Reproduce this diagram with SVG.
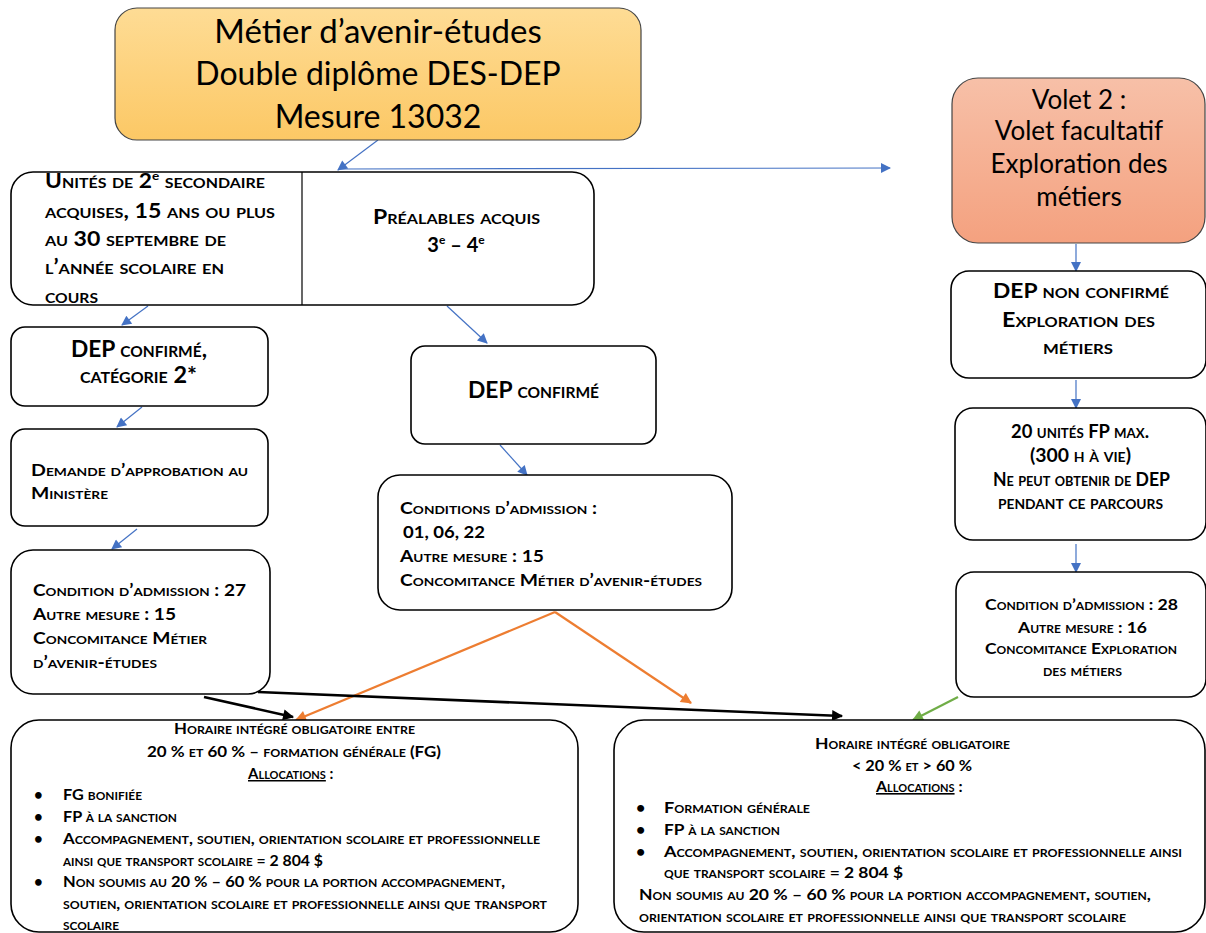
<svg xmlns="http://www.w3.org/2000/svg" width="1206" height="933" viewBox="0 0 1206 933">
<defs>
<linearGradient id="gOr" x1="0" y1="0" x2="0" y2="1"><stop offset="0" stop-color="#fedc95"/><stop offset="1" stop-color="#fcc865"/></linearGradient>
<linearGradient id="gRed" x1="0" y1="0" x2="0" y2="1"><stop offset="0" stop-color="#f7c0a8"/><stop offset="1" stop-color="#f4a17f"/></linearGradient>
<marker id="aB" viewBox="0 0 10 10" refX="9" refY="5" markerWidth="13" markerHeight="10" markerUnits="userSpaceOnUse" orient="auto"><path d="M0,0 L10,5 L0,10 z" fill="#4472c4"/></marker>
<marker id="aO" viewBox="0 0 10 10" refX="9" refY="5" markerWidth="14" markerHeight="11" markerUnits="userSpaceOnUse" orient="auto"><path d="M0,0 L10,5 L0,10 z" fill="#ed7d31"/></marker>
<marker id="aK" viewBox="0 0 10 10" refX="9" refY="5" markerWidth="14" markerHeight="11" markerUnits="userSpaceOnUse" orient="auto"><path d="M0,0 L10,5 L0,10 z" fill="#000"/></marker>
<marker id="aG" viewBox="0 0 10 10" refX="9" refY="5" markerWidth="14" markerHeight="11" markerUnits="userSpaceOnUse" orient="auto"><path d="M0,0 L10,5 L0,10 z" fill="#70ad47"/></marker>
</defs>
<style>
.box{fill:#fff;stroke:#000;stroke-width:1.6}
.t{font-family:Lato,"Open Sans",sans-serif;fill:#000}
.sc{font-family:Lato,"Open Sans",sans-serif;font-variant:small-caps;font-weight:bold;fill:#000}
.c{text-anchor:middle}
.sup{font-variant:normal}
.blue{stroke:#4472c4;stroke-width:1.2;fill:none;marker-end:url(#aB)}
.or{stroke:#ed7d31;stroke-width:2.2;fill:none;marker-end:url(#aO)}
.blk{stroke:#000;stroke-width:2.6;fill:none;marker-end:url(#aK)}
.gr{stroke:#70ad47;stroke-width:2.2;fill:none;marker-end:url(#aG)}
</style>
<rect width="1206" height="933" fill="#fff"/>

<g id="connectors">
<line class="blue" x1="378" y1="140" x2="338" y2="170"/>
<line class="blue" x1="340" y1="169" x2="890" y2="168"/>
<line class="blue" x1="148" y1="306" x2="122" y2="325"/>
<line class="blue" x1="447" y1="306" x2="487" y2="343"/>
<line class="blue" x1="142" y1="407" x2="117" y2="427"/>
<line class="blue" x1="137" y1="529" x2="112" y2="549"/>
<line class="blue" x1="500" y1="445" x2="527" y2="475"/>
<line class="blue" x1="1076" y1="244" x2="1076" y2="271"/>
<line class="blue" x1="1076" y1="380" x2="1076" y2="408"/>
<line class="blue" x1="1076" y1="544" x2="1076" y2="572"/>
<line class="or" x1="555" y1="612" x2="296" y2="720"/>
<line class="or" x1="555" y1="612" x2="691" y2="703"/>
<line class="blk" x1="204" y1="697" x2="293" y2="717"/>
<line class="blk" x1="258" y1="692" x2="842" y2="716"/>
<line class="gr" x1="958" y1="697" x2="913" y2="720"/>
</g>

<g id="n-title">
<rect x="115" y="8" width="526" height="132" rx="22" fill="url(#gOr)" stroke="#444" stroke-width="1.2"/>
<text class="t c" x="378" font-size="32"><tspan x="378" y="43" font-size="33">Métier d’avenir-études</tspan><tspan x="378" y="85">Double diplôme DES-DEP</tspan><tspan x="378" y="128">Mesure 13032</tspan></text>
</g>

<g id="n-volet2">
<rect x="952" y="78" width="253" height="165" rx="26" fill="url(#gRed)" stroke="#444" stroke-width="1.2"/>
<text class="t c" x="1079" font-size="26"><tspan x="1079" y="109">Volet 2 :</tspan><tspan x="1079" y="140">Volet facultatif</tspan><tspan x="1079" y="173">Exploration des</tspan><tspan x="1079" y="206">métiers</tspan></text>
</g>

<g id="n-unites">
<rect class="box" x="11" y="172" width="583" height="133" rx="22"/>
<line x1="302" y1="172" x2="302" y2="305" stroke="#000" stroke-width="1.2"/>
<g font-size="20" class="sc">
<text x="45" y="188" textLength="220" lengthAdjust="spacingAndGlyphs">Unités de 2<tspan class="sup" font-size="12" dy="-8">e</tspan><tspan dy="8"> secondaire</tspan></text>
<text x="45" y="218" textLength="230" lengthAdjust="spacingAndGlyphs">acquises, 15 ans ou plus</text>
<text x="45" y="246" textLength="181" lengthAdjust="spacingAndGlyphs">au 30 septembre de</text>
<text x="45" y="274" textLength="179" lengthAdjust="spacingAndGlyphs">l’année scolaire en</text>
<text x="45" y="303" textLength="53" lengthAdjust="spacingAndGlyphs">cours</text>
<text x="373" y="224" textLength="167" lengthAdjust="spacingAndGlyphs">Préalables acquis</text>
<text x="456" y="252" class="c">3<tspan class="sup" font-size="12" dy="-8">e</tspan><tspan dy="8"> – 4</tspan><tspan class="sup" font-size="12" dy="-8">e</tspan></text>
</g>
</g>

<g id="n-dep2">
<rect class="box" x="11" y="327" width="257" height="79" rx="14"/>
<g font-size="22" class="sc">
<text x="71" y="357" textLength="136" lengthAdjust="spacingAndGlyphs">DEP confirmé,</text>
<text x="80" y="383" textLength="117" lengthAdjust="spacingAndGlyphs">catégorie 2*</text>
</g>
</g>

<g id="n-demande">
<rect class="box" x="11" y="429" width="257" height="97" rx="14"/>
<g font-size="17" class="sc">
<text x="31" y="476" textLength="217" lengthAdjust="spacingAndGlyphs">Demande d’approbation au</text>
<text x="31" y="499" textLength="77" lengthAdjust="spacingAndGlyphs">Ministère</text>
</g>
</g>

<g id="n-cond27">
<rect class="box" x="11" y="550" width="259" height="144" rx="22"/>
<g font-size="17" class="sc">
<text x="33" y="596" textLength="213" lengthAdjust="spacingAndGlyphs">Condition d’admission : 27</text>
<text x="33" y="620" textLength="143" lengthAdjust="spacingAndGlyphs">Autre mesure : 15</text>
<text x="33" y="644" textLength="174" lengthAdjust="spacingAndGlyphs">Concomitance Métier</text>
<text x="33" y="668" textLength="124" lengthAdjust="spacingAndGlyphs">d’avenir-études</text>
</g>
</g>

<g id="n-depconf">
<rect class="box" x="411" y="346" width="245" height="98" rx="14"/>
<text class="sc" font-size="22" x="468" y="398" textLength="131" lengthAdjust="spacingAndGlyphs">DEP confirmé</text>
</g>

<g id="n-cond01">
<rect class="box" x="378" y="475" width="354" height="135" rx="22"/>
<g font-size="17" class="sc">
<text x="400" y="514" textLength="197" lengthAdjust="spacingAndGlyphs">Conditions d’admission :</text>
<text x="403" y="538" textLength="82" lengthAdjust="spacingAndGlyphs">01, 06, 22</text>
<text x="400" y="562" textLength="144" lengthAdjust="spacingAndGlyphs">Autre mesure : 15</text>
<text x="400" y="586" textLength="302" lengthAdjust="spacingAndGlyphs">Concomitance Métier d’avenir-études</text>
</g>
</g>

<g id="n-depnon">
<rect class="box" x="951" y="271" width="255" height="107" rx="18"/>
<g font-size="20" class="sc">
<text x="993" y="298" textLength="176" lengthAdjust="spacingAndGlyphs">DEP non confirmé</text>
<text x="1002" y="327" textLength="153" lengthAdjust="spacingAndGlyphs">Exploration des</text>
<text x="1043" y="354" textLength="70" lengthAdjust="spacingAndGlyphs">métiers</text>
</g>
</g>

<g id="n-20unites">
<rect class="box" x="955" y="408" width="251" height="132" rx="18"/>
<g font-size="18" class="sc">
<text x="1011" y="438" textLength="138" lengthAdjust="spacingAndGlyphs">20 unités FP max.</text>
<text x="1030" y="462" textLength="101" lengthAdjust="spacingAndGlyphs">(300 h à vie)</text>
<text x="993" y="486" textLength="177" lengthAdjust="spacingAndGlyphs">Ne peut obtenir de DEP</text>
<text x="998" y="509" textLength="165" lengthAdjust="spacingAndGlyphs">pendant ce parcours</text>
</g>
</g>

<g id="n-cond28">
<rect class="box" x="956" y="572" width="250" height="125" rx="18"/>
<g font-size="16" class="sc">
<text x="985" y="610" textLength="193" lengthAdjust="spacingAndGlyphs">Condition d’admission : 28</text>
<text x="1018" y="633" textLength="129" lengthAdjust="spacingAndGlyphs">Autre mesure : 16</text>
<text x="985" y="654" textLength="192" lengthAdjust="spacingAndGlyphs">Concomitance Exploration</text>
<text x="1043" y="676" textLength="79" lengthAdjust="spacingAndGlyphs">des métiers</text>
</g>
</g>

<g id="n-horaire1">
<rect class="box" x="11" y="720" width="567" height="212" rx="28"/>
<g font-size="15" class="sc">
<text x="174" y="734" textLength="241" lengthAdjust="spacingAndGlyphs">Horaire intégré obligatoire entre</text>
<text x="147" y="757" textLength="294" lengthAdjust="spacingAndGlyphs">20 % et 60 % – formation générale (FG)</text>
<text x="248" y="779"><tspan text-decoration="underline">Allocations</tspan> :</text>
<text x="34" y="800">•</text>
<text x="63" y="800" textLength="79" lengthAdjust="spacingAndGlyphs">FG bonifiée</text>
<text x="34" y="822">•</text>
<text x="63" y="822" textLength="114" lengthAdjust="spacingAndGlyphs">FP à la sanction</text>
<text x="34" y="844">•</text>
<text x="63" y="844" textLength="477" lengthAdjust="spacingAndGlyphs">Accompagnement, soutien, orientation scolaire et professionnelle</text>
<text x="63" y="866" textLength="260" lengthAdjust="spacingAndGlyphs">ainsi que transport scolaire = 2 804 $</text>
<text x="34" y="887">•</text>
<text x="63" y="887" textLength="442" lengthAdjust="spacingAndGlyphs">Non soumis au 20 % – 60 % pour la portion accompagnement,</text>
<text x="63" y="909" textLength="484" lengthAdjust="spacingAndGlyphs">soutien, orientation scolaire et professionnelle ainsi que transport</text>
<text x="63" y="930" textLength="56" lengthAdjust="spacingAndGlyphs">scolaire</text>
</g>
</g>

<g id="n-horaire2">
<rect class="box" x="614" y="720" width="591" height="212" rx="30"/>
<g font-size="16" class="sc">
<text x="815" y="749" textLength="195" lengthAdjust="spacingAndGlyphs">Horaire intégré obligatoire</text>
<text x="852" y="771" textLength="120" lengthAdjust="spacingAndGlyphs">&lt; 20 % et &gt; 60 %</text>
<text x="876" y="792"><tspan text-decoration="underline">Allocations</tspan> :</text>
<text x="636" y="813">•</text>
<text x="664" y="813" textLength="146" lengthAdjust="spacingAndGlyphs">Formation générale</text>
<text x="636" y="835">•</text>
<text x="664" y="835" textLength="116" lengthAdjust="spacingAndGlyphs">FP à la sanction</text>
<text x="636" y="857">•</text>
<text x="664" y="857" textLength="518" lengthAdjust="spacingAndGlyphs">Accompagnement, soutien, orientation scolaire et professionnelle ainsi</text>
<text x="664" y="878" textLength="239" lengthAdjust="spacingAndGlyphs">que transport scolaire = 2 804 $</text>
<text x="639" y="900" textLength="512" lengthAdjust="spacingAndGlyphs">Non soumis au 20 % – 60 % pour la portion accompagnement, soutien,</text>
<text x="639" y="922" textLength="487" lengthAdjust="spacingAndGlyphs">orientation scolaire et professionnelle ainsi que transport scolaire</text>
</g>
</g>
</svg>
